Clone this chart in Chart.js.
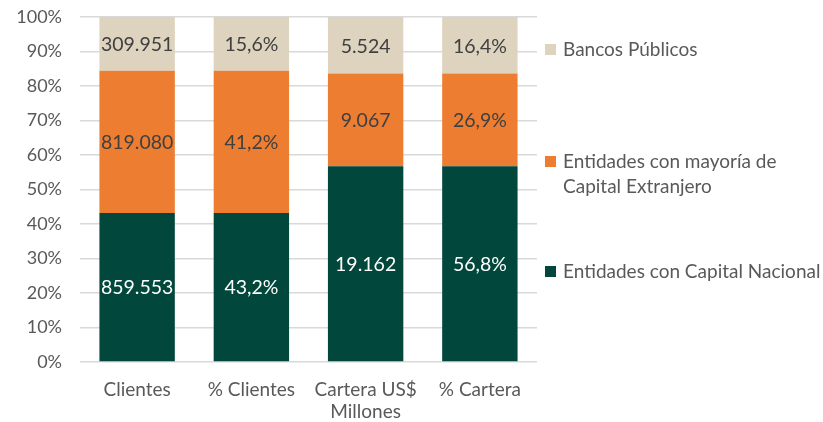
<!DOCTYPE html>
<html>
<head>
<meta charset="utf-8">
<script src="https://cdn.jsdelivr.net/npm/chart.js@4/dist/chart.umd.min.js"></script>
<style>
  html, body { margin: 0; padding: 0; background: #fff; }
  #wrap { width: 823px; height: 422px; position: relative; }
</style>
</head>
<body>
<div id="wrap"><canvas id="myChart"></canvas></div>
<script>
const categories = ["Clientes", "% Clientes", ["Cartera US$", "Millones"], "% Cartera"];
const isPercent = [false, true, false, true];
const nacional = [859553, 43.2, 19162, 56.8];
const extranjero = [819080, 41.2, 9067, 26.9];
const publicos = [309951, 15.6, 5524, 16.4];
const yTicks = [0, 10, 20, 30, 40, 50, 60, 70, 80, 90, 100];

const FONT = "Lato, 'Liberation Sans', sans-serif";

// share of each column so the bars stack to 100%
const share = (arr) => arr.map((v, i) => v / (nacional[i] + extranjero[i] + publicos[i]) * 100);

const fmt = (v, i) => {
  if (isPercent[i]) return v.toFixed(1).replace(".", ",") + "%";
  return v.toString().replace(/\B(?=(\d{3})+(?!\d))/g, ".");
};

const series = [
  { label: "Entidades con Capital Nacional", raw: nacional, color: "#02473B", text: "#ffffff" },
  { label: ["Entidades con mayoría de", "Capital Extranjero"], raw: extranjero, color: "#ED7D31", text: "#404040" },
  { label: "Bancos Públicos", raw: publicos, color: "#DDD3BF", text: "#404040" },
];

// values inside the segments
const valueLabels = {
  id: "valueLabels",
  afterDatasetsDraw(chart) {
    const ctx = chart.ctx;
    ctx.save();
    ctx.font = "19.5px " + FONT;
    ctx.textAlign = "center";
    ctx.textBaseline = "middle";
    series.forEach((s, di) => {
      chart.getDatasetMeta(di).data.forEach((bar, i) => {
        ctx.fillStyle = s.text;
        ctx.fillText(fmt(s.raw[i], i), bar.x, (bar.y + bar.base) / 2 + 1);
      });
    });
    ctx.restore();
  },
};

// legend on the right, in Excel order (top item first)
const sideLegend = {
  id: "sideLegend",
  afterDraw(chart) {
    const ctx = chart.ctx;
    const x = chart.chartArea.right + 8;
    const rows = [
      { s: series[2], y: 49 },
      { s: series[1], y: 161 },
      { s: series[0], y: 271 },
    ];
    ctx.save();
    ctx.font = "19px " + FONT;
    ctx.textBaseline = "middle";
    rows.forEach((r) => {
      ctx.fillStyle = r.s.color;
      ctx.fillRect(x, r.y - 5, 11, 11);
      ctx.fillStyle = "#595959";
      const lines = Array.isArray(r.s.label) ? r.s.label : [r.s.label];
      lines.forEach((t, k) => ctx.fillText(t, x + 18, r.y + 1 + k * 25));
    });
    ctx.restore();
  },
};

const ctx = document.getElementById("myChart").getContext("2d");
const chart = new Chart(ctx, {
  type: "bar",
  data: {
    labels: categories,
    datasets: series.map((s) => ({
      label: Array.isArray(s.label) ? s.label.join(" ") : s.label,
      data: share(s.raw),
      backgroundColor: s.color,
      borderWidth: 0,
      barPercentage: 0.66,
      categoryPercentage: 1,
    })),
  },
  options: {
    responsive: true,
    maintainAspectRatio: false,
    animation: false,
    layout: { padding: { top: 17, right: 286, bottom: 0, left: 0 } },
    plugins: {
      legend: { display: false },
      tooltip: { enabled: false },
    },
    scales: {
      x: {
        stacked: true,
        grid: { display: false },
        border: { display: false },
        ticks: {
          color: "#595959",
          font: { family: FONT, size: 19, lineHeight: 1.2 },
          padding: 8,
          maxRotation: 0,
          autoSkip: false,
        },
        afterFit: (scale) => { scale.height = 60; },
      },
      y: {
        stacked: true,
        min: 0,
        max: 100,
        afterBuildTicks: (scale) => { scale.ticks = yTicks.map((v) => ({ value: v })); },
        grid: { color: "#D9D9D9", lineWidth: 1.5, drawTicks: false },
        border: { display: false },
        ticks: {
          color: "#595959",
          font: { family: FONT, size: 18 },
          padding: 18,
          callback: (v) => v + "%",
        },
        afterFit: (scale) => {
          scale.width = 80;
          scale.paddingTop = 0;
          scale.paddingBottom = 0;
        },
      },
    },
  },
  plugins: [valueLabels, sideLegend],
});
</script>
</body>
</html>
